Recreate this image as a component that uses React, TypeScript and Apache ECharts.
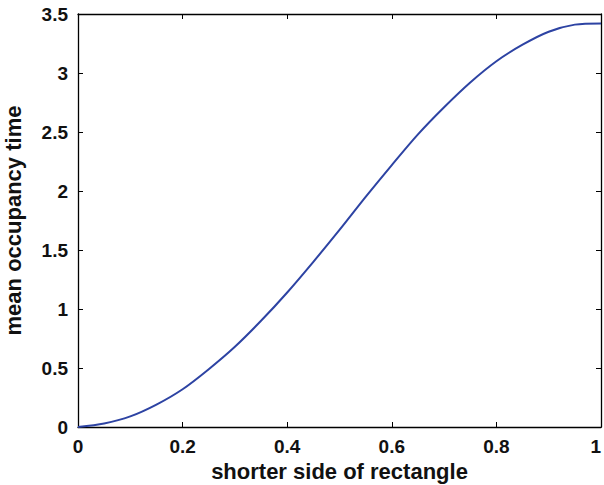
import React, { useEffect, useRef } from "react";
import * as echarts from "echarts";

const xValues = [0, 0.05, 0.1, 0.15, 0.2, 0.25, 0.3, 0.35, 0.4, 0.45, 0.5, 0.55, 0.6, 0.65, 0.7, 0.75, 0.8, 0.85, 0.9, 0.95, 1.0];
const yValues = [0, 0.03, 0.09, 0.19, 0.32, 0.49, 0.68, 0.9, 1.14, 1.4, 1.67, 1.95, 2.22, 2.48, 2.71, 2.92, 3.1, 3.24, 3.35, 3.41, 3.42];

const xName = "shorter side of rectangle";
const yName = "mean occupancy time";

export default function App() {
  const ref = useRef<HTMLDivElement>(null);
  useEffect(() => {
    if (!ref.current) return;
    const chart = echarts.init(ref.current, undefined, { renderer: "svg" });
    const font = "'Liberation Sans', Arial, Helvetica, sans-serif";
    const axisLine = { show: true, onZero: false, lineStyle: { color: "#000", width: 1.3 } };
    const axisTick = { show: true, inside: true, length: 5, lineStyle: { color: "#000", width: 1 } };
    const labelStyle = { color: "#111", fontSize: 19, fontWeight: "bold" as const, fontFamily: font };
    const nameStyle = { color: "#111", fontSize: 22, fontWeight: "bold" as const, fontFamily: font };
    chart.setOption({
      animation: false,
      backgroundColor: "#fff",
      grid: { left: 78, right: 3, top: 14, bottom: 58, containLabel: false, outerBoundsMode: "none" },
      xAxis: [
        {
          type: "value", min: 0, max: 1, interval: 0.2, position: "bottom",
          name: xName, nameLocation: "middle", nameGap: 31, nameTextStyle: nameStyle,
          axisLine, axisTick, splitLine: { show: false },
          axisLabel: { ...labelStyle, margin: 10, alignMaxLabel: "right" },
        },
        {
          type: "value", min: 0, max: 1, interval: 0.2, position: "top",
          axisLine, axisTick, splitLine: { show: false }, axisLabel: { show: false },
        },
      ],
      yAxis: [
        {
          type: "value", min: 0, max: 3.5, interval: 0.5, position: "left",
          name: yName, nameLocation: "middle", nameGap: 54, nameTextStyle: nameStyle,
          axisLine, axisTick, splitLine: { show: false },
          axisLabel: { ...labelStyle, margin: 10 },
        },
        {
          type: "value", min: 0, max: 3.5, interval: 0.5, position: "right",
          axisLine, axisTick, splitLine: { show: false }, axisLabel: { show: false },
        },
      ],
      series: [
        {
          type: "line",
          data: xValues.map((x, i) => [x, yValues[i]]),
          smooth: 0.3,
          showSymbol: false,
          lineStyle: { color: "#2d43a3", width: 2 },
          xAxisIndex: 0,
          yAxisIndex: 0,
        },
      ],
    });
    return () => chart.dispose();
  }, []);
  return <div ref={ref} style={{ position: "fixed", left: 0, top: 0, width: 604, height: 485 }} />;
}
